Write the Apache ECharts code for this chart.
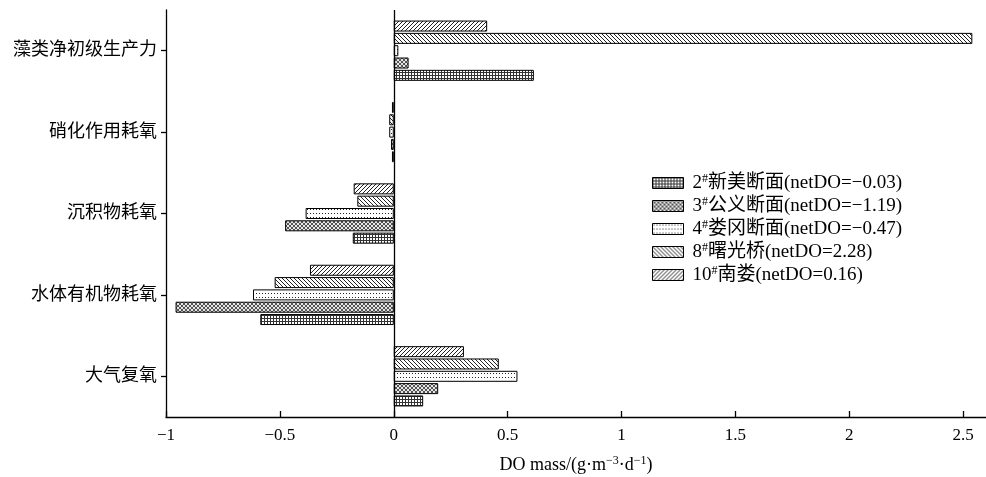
<!DOCTYPE html>
<html>
<head>
<meta charset="utf-8">
<script src="https://cdn.jsdelivr.net/npm/echarts@6/dist/echarts.min.js"></script>
<style>html,body{margin:0;padding:0;background:#fff}#c{width:986px;height:477px}</style>
</head>
<body>
<div id="c"></div>
<script>
// ---- data ----
var categories = ['大气复氧', '水体有机物耗氧', '沉积物耗氧', '硝化作用耗氧', '藻类净初级生产力'];
var stationNo = ['2', '3', '4', '8', '10'];
var stationName = ['新美断面', '公义断面', '娄冈断面', '曙光桥', '南娄'];
var netDO = ['−0.03', '−1.19', '−0.47', '2.28', '0.16'];
var s2 = [0.129, -0.586, -0.18, -0.008, 0.615];
var s3 = [0.195, -0.958, -0.477, -0.012, 0.065];
var s4 = [0.543, -0.618, -0.387, -0.02, 0.02];
var s8 = [0.461, -0.523, -0.16, -0.02, 2.54];
var s10 = [0.308, -0.368, -0.176, -0.008, 0.41];
var xTicks = [-1, -0.5, 0, 0.5, 1, 1.5, 2, 2.5];
var seriesValues = [s2, s3, s4, s8, s10];

// ---- patterns ----
function pat(w, h, bg, px, col) {
  var c = document.createElement('canvas');
  c.width = w; c.height = h;
  var g = c.getContext('2d');
  g.fillStyle = bg; g.fillRect(0, 0, w, h);
  g.fillStyle = col;
  px.forEach(function (p) { g.fillRect(p[0], p[1], 1, 1); });
  return { image: c, repeat: 'repeat' };
}
var patterns = [
  pat(3, 3, '#fff', [[0,0],[1,0],[2,0],[0,1],[0,2]], '#333'),
  pat(4, 4, '#e6e6e6', [[0,0],[1,1],[2,2],[3,3],[3,0],[2,1],[1,2],[0,3]], '#555'),
  pat(3, 4, '#fff', [[1,1]], '#222'),
  pat(4, 4, '#fff', [[0,0],[1,1],[2,2],[3,3]], '#222'),
  pat(4, 4, '#fff', [[3,0],[2,1],[1,2],[0,3]], '#222')
];

var FONT = '"Liberation Serif", "Noto Sans CJK SC", serif';

var series = seriesValues.map(function (vals, i) {
  var s = {
    name: stationNo[i] + '#' + stationName[i] + '(netDO=' + netDO[i] + ')',
    type: 'bar',
    data: vals,
    barWidth: 11,
    barGap: '12%',
    itemStyle: { color: patterns[i], borderColor: '#000', borderWidth: 1 },
    emphasis: { disabled: true }
  };
  if (i === 0) {
    s.markLine = {
      silent: true, symbol: 'none', label: { show: false },
      lineStyle: { color: '#000', type: 'solid', width: 1.3 },
      data: [{ xAxis: 0 }]
    };
  }
  return s;
});
var legendNames = series.map(function (s) { return s.name; });
// first listed series is drawn at the top of each band, so reverse for the bar order
var drawSeries = series.slice().reverse();

var chart = echarts.init(document.getElementById('c'), null, { renderer: 'canvas' });
chart.setOption({
  animation: false,
  backgroundColor: '#fff',
  grid: { left: 166, right: 0, top: 10, bottom: 60, outerBoundsMode: 'none', containLabel: false },
  legend: {
    orient: 'vertical',
    left: 652, top: 173,
    padding: 0,
    icon: 'rect',
    itemWidth: 31, itemHeight: 11, itemGap: 3.5,
    selectedMode: false,
    textStyle: {
      fontFamily: FONT, fontSize: 19, color: '#000',
      rich: {
        n: { fontFamily: FONT, fontSize: 19, color: '#000', lineHeight: 20, padding: [0, 0, 0, 4] },
        s: { fontFamily: FONT, fontSize: 12, color: '#000', verticalAlign: 'top', lineHeight: 10 },
        t: { fontFamily: FONT, fontSize: 19, color: '#000', lineHeight: 20 }
      }
    },
    formatter: function (name) {
      var k = name.indexOf('#');
      return '{n|' + name.slice(0, k) + '}{s|#}{t|' + name.slice(k + 1) + '}';
    },
    data: legendNames.map(function (n) { return { name: n, itemStyle: { borderColor: '#000', borderWidth: 1 } }; })
  },
  xAxis: {
    type: 'value',
    min: -1, max: 2.6,
    interval: 0.5,
    splitLine: { show: false },
    axisLine: { show: true, onZero: false, lineStyle: { color: '#000', width: 1.3 } },
    axisTick: { show: true, inside: true, length: 6, lineStyle: { color: '#000', width: 1.3 }, customValues: xTicks },
    axisLabel: {
      color: '#000', fontFamily: FONT, fontSize: 17, margin: 10,
      customValues: xTicks,
      formatter: function (v) { return v < 0 ? '−' + Math.abs(v) : String(v); }
    },
    name: '{a|DO mass/(g·m}{s|−3}{a|·d}{s|−1}{a|)}',
    nameLocation: 'middle',
    nameGap: 38,
    nameTextStyle: {
      rich: {
        a: { fontFamily: FONT, fontSize: 18, color: '#000', lineHeight: 20 },
        s: { fontFamily: FONT, fontSize: 12, color: '#000', verticalAlign: 'top', lineHeight: 11 }
      }
    }
  },
  yAxis: {
    type: 'category',
    data: categories,
    axisLine: { show: true, onZero: false, lineStyle: { color: '#000', width: 1.3 } },
    axisTick: { show: true, alignWithLabel: true, length: 5, lineStyle: { color: '#000', width: 1.3 } },
    axisLabel: { color: '#000', fontFamily: FONT, fontSize: 18, margin: 9 },
    splitLine: { show: false }
  },
  series: drawSeries
});
</script>
</body>
</html>
